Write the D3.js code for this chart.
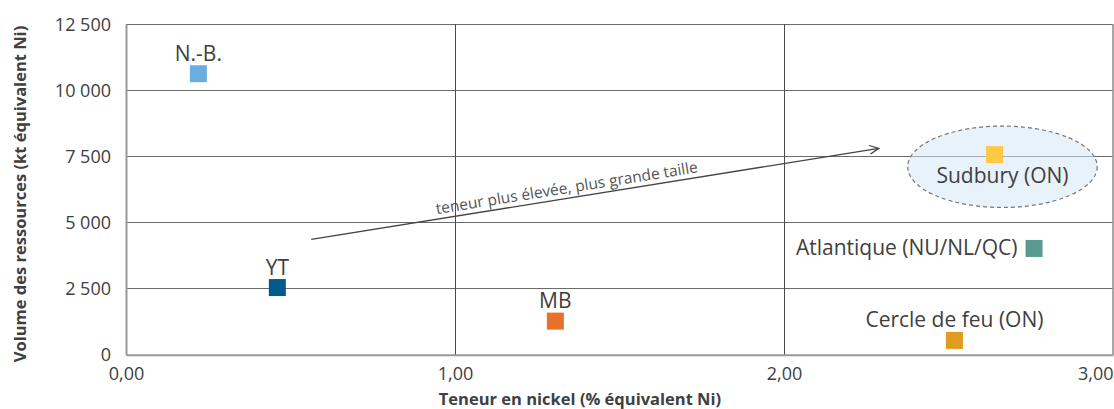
<!DOCTYPE html>
<html><head><meta charset="utf-8">
<script src="https://cdn.jsdelivr.net/npm/d3@7"></script>
<style>
html,body{margin:0;padding:0;background:#fff;}
svg{display:block;font-family:"Open Sans",sans-serif;}
</style></head>
<body>
<svg id="chart" width="1114" height="409"></svg>
<script>
// ---- data ----
const regions = ["N.-B.", "YT", "MB", "Sudbury (ON)", "Atlantique (NU/NL/QC)", "Cercle de feu (ON)"];
const grade = [0.22, 0.46, 1.305, 2.64, 2.76, 2.518];          // % équivalent Ni
const volume = [10630, 2540, 1270, 7570, 4020, 540];            // kt équivalent Ni
const colors = ["#6AAEE0", "#005A8B", "#E8702A", "#FFC845", "#5A9A90", "#E09C1E"];
const labelPlace = ["above", "above", "above", "below", "left", "above"];
const xTicks = [0, 1, 2, 3];
const yTicks = [0, 2500, 5000, 7500, 10000, 12500];
const arrowFrom = [0.563, 4365];
const arrowTo = [2.288, 7806];
const arrowText = "teneur plus élevée, plus grande taille";
const highlight = {cx: 2.664, cy: 7110, rx: 0.288, ry: 1539};
const xTitle = "Teneur en nickel (% équivalent Ni)";
const yTitle = "Volume des ressources (kt équivalent Ni)";

// ---- layout ----
const svg = d3.select("#chart");
const L = 126, R = 1113, T = 24.3, B = 354.7;
const x = d3.scaleLinear().domain([0, 3]).range([L, R]);
const y = d3.scaleLinear().domain([0, 12500]).range([B, T]);
const fmtX = v => d3.format(".2f")(v).replace(".", ",");
const fmtY = v => v === 0 ? "0" : d3.format(",")(v).replace(/,/g, " ");

// horizontal grid
svg.append("g").selectAll("line").data(yTicks.filter(d => d > 0)).join("line")
  .attr("x1", L).attr("x2", R).attr("y1", d => y(d)).attr("y2", d => y(d))
  .attr("stroke", "#6b6b6b").attr("stroke-width", 1).attr("shape-rendering", "crispEdges");
// vertical grid
svg.append("g").selectAll("line").data(xTicks.filter(d => d > 0 && d < 3)).join("line")
  .attr("y1", T).attr("y2", B).attr("x1", d => x(d)).attr("x2", d => x(d))
  .attr("stroke", "#4a4a4a").attr("stroke-width", 1).attr("shape-rendering", "crispEdges");
// right border
svg.append("line").attr("x1", x(3)).attr("x2", x(3)).attr("y1", T).attr("y2", B)
  .attr("stroke", "#8a8a8a").attr("stroke-width", 1.5);

// axes
const xAxis = svg.append("g").attr("transform", `translate(0,${B})`)
  .call(d3.axisBottom(x).tickValues(xTicks).tickFormat(fmtX).tickSize(0).tickPadding(10));
xAxis.select(".domain").attr("stroke", "#999").attr("stroke-width", 2);
xAxis.selectAll("text").attr("font-size", 18).attr("fill", "#404040")
  .attr("font-family", "Open Sans").attr("dy", "0.85em")
  .attr("text-anchor", d => d === 3 ? "end" : "middle");

const yAxis = svg.append("g").attr("transform", `translate(${L},0)`)
  .call(d3.axisLeft(y).tickValues(yTicks).tickFormat(fmtY).tickSize(0).tickPadding(15));
yAxis.select(".domain").attr("stroke", "#999").attr("stroke-width", 2);
yAxis.selectAll("text").attr("font-size", 18).attr("fill", "#404040")
  .attr("font-family", "Open Sans");

// highlight ellipse
svg.append("ellipse")
  .attr("cx", x(highlight.cx)).attr("cy", y(highlight.cy))
  .attr("rx", x(highlight.rx) - x(0)).attr("ry", y(0) - y(highlight.ry))
  .attr("fill", "rgba(214,231,245,0.55)").attr("stroke", "#777")
  .attr("stroke-width", 1.2).attr("stroke-dasharray", "4,3");

// arrow
const ax1 = x(arrowFrom[0]), ay1 = y(arrowFrom[1]), ax2 = x(arrowTo[0]), ay2 = y(arrowTo[1]);
const ang = Math.atan2(ay2 - ay1, ax2 - ax1);
svg.append("line").attr("x1", ax1).attr("y1", ay1).attr("x2", ax2).attr("y2", ay2)
  .attr("stroke", "#444").attr("stroke-width", 1.3);
const hl = 10, ha = 0.45;
svg.append("path")
  .attr("d", `M${ax2 - hl * Math.cos(ang - ha)},${ay2 - hl * Math.sin(ang - ha)}L${ax2},${ay2}L${ax2 - hl * Math.cos(ang + ha)},${ay2 - hl * Math.sin(ang + ha)}`)
  .attr("fill", "none").attr("stroke", "#444").attr("stroke-width", 1.3);
const tt = 0.453;
const tx = ax1 + tt * (ax2 - ax1), ty = ay1 + tt * (ay2 - ay1);
svg.append("text").attr("transform", `translate(${tx},${ty}) rotate(${ang * 180 / Math.PI})`)
  .attr("y", -5).attr("text-anchor", "middle").attr("font-size", 15.5).attr("fill", "#555")
  .text(arrowText);

// points
const pts = regions.map((r, i) => ({r, gx: grade[i], v: volume[i], c: colors[i], p: labelPlace[i]}));
const S = 17;
svg.append("g").selectAll("rect").data(pts).join("rect")
  .attr("x", d => x(d.gx) - S / 2).attr("y", d => y(d.v) - S / 2)
  .attr("width", S).attr("height", S).attr("fill", d => d.c);

svg.append("g").selectAll("text").data(pts).join("text")
  .attr("font-size", 21).attr("fill", "#404040")
  .attr("x", d => d.p === "left" ? x(d.gx) - S / 2 - 8 : (d.p === "below" ? x(highlight.cx) : x(d.gx)))
  .attr("y", d => d.p === "above" ? y(d.v) - 13 : d.p === "below" ? y(d.v) + 28 : y(d.v) + 7)
  .attr("text-anchor", d => d.p === "left" ? "end" : "middle")
  .text(d => d.r);

// axis titles
svg.append("text").attr("x", 580).attr("y", 405).attr("text-anchor", "middle")
  .attr("font-size", 16.5).attr("font-weight", "bold").attr("fill", "#404040").text(xTitle);
svg.append("text").attr("transform", `translate(26,194) rotate(-90)`).attr("text-anchor", "middle")
  .attr("font-size", 16.5).attr("font-weight", "bold").attr("fill", "#404040").text(yTitle);
</script>
</body></html>
